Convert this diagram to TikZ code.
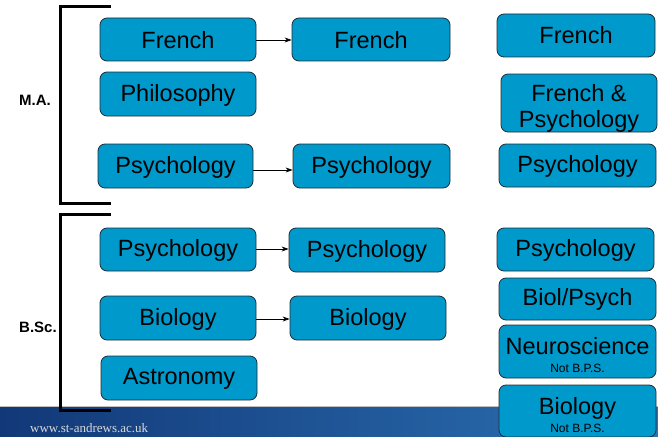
\documentclass[tikz,border=0pt]{standalone}
\usepackage{fontspec}
\setmainfont{Liberation Sans}
\newfontfamily\urlfont{Liberation Serif}
\usetikzlibrary{arrows.meta}
\definecolor{boxblue}{RGB}{0,153,204}
\definecolor{boxedge}{RGB}{30,45,55}
\definecolor{banddark}{RGB}{18,56,120}
\definecolor{bandlight}{RGB}{44,114,180}
\tikzset{
  cbox/.style={draw=boxedge, line width=0.8pt, fill=boxblue, rounded corners=7pt, inner sep=0pt},
  ctext/.style={inner sep=0pt, align=center, font=\fontsize{23.5}{26}\selectfont, text=black},
  bracket/.style={line width=3pt, line cap=rect},
  conn/.style={-{Stealth[length=7pt,width=5pt]}, line width=0.7pt},
  deg/.style={font=\bfseries\fontsize{15}{17}\selectfont}
}
% \bx{name}{x1}{y1}{x2}{y2}{text}{text y offset}
\newcommand{\bx}[7]{%
  \node[cbox, minimum width={(#4-#2)*1pt}, minimum height={(#5-#3)*1pt}] (#1) at ({(#2+#4)/2},{(#3+#5)/2}) {};
  \node[ctext] (#1t) at ({(#2+#4)/2},{(#3+#5)/2+#7}) {#6};}
\newcommand{\nbps}{{\fontsize{12}{13}\selectfont Not B.P.S.}}
\begin{document}
\begin{tikzpicture}[x=1pt,y=-1pt]
\useasboundingbox (0,0) rectangle (658,436);
% bottom band
\shade[left color=banddark, right color=bandlight] (0,407) rectangle (658,436);
\draw[color=black!25, line width=1pt] (0,406.5) -- (658,406.5);
\node[font=\urlfont\fontsize{13}{13}\selectfont, text=white!85!black, anchor=west, inner sep=0pt] (url) at (30,428) {www.st-andrews.ac.uk};
% brackets
\coordinate (ma1) at (109,7);
\coordinate (ma2) at (60,7);
\coordinate (ma3) at (60,203);
\coordinate (ma4) at (109,203);
\draw[bracket] (ma1) -- (ma2) -- (ma3) -- (ma4);
\coordinate (bs1) at (109,214);
\coordinate (bs2) at (60,214);
\coordinate (bs3) at (60,410);
\coordinate (bs4) at (109,410);
\draw[bracket] (bs1) -- (bs2) -- (bs3) -- (bs4);
\node[deg] (ma) at (35,100) {M.A.};
\node[deg] (bsc) at (38,327) {B.Sc.};
% column 1
\bx{fr1}{100}{18}{256}{61}{French}{1}
\bx{ph1}{100}{72}{256}{116}{Philosophy}{1}
\bx{ps1}{98}{144}{253}{188}{Psychology}{1}
\bx{ps2}{100}{228}{256}{271}{Psychology}{1}
\bx{bi1}{100}{296}{256}{340}{Biology}{1}
\bx{as1}{101}{356}{257}{400}{Astronomy}{1}
% column 2
\bx{fr2}{292}{18}{450}{61}{French}{1}
\bx{ps3}{293}{144}{450}{188}{Psychology}{1}
\bx{ps4}{289}{228}{445}{272}{Psychology}{1}
\bx{bi2}{290}{296}{446}{340}{Biology}{1}
% column 3
\bx{fr3}{497}{14}{655}{57}{French}{0}
\bx{fp3}{501}{74}{657}{132}{French \&\\[0pt]Psychology}{5}
\bx{ps5}{499}{144}{656}{187}{Psychology}{1}
\bx{ps6}{497}{228}{654}{271}{Psychology}{1}
\bx{bp3}{499}{278}{656}{320}{Biol/Psych}{0}
\bx{ne3}{499}{325}{656}{378}{Neuroscience\\[-8pt]\nbps}{4}
\bx{bi3}{499}{385}{656}{437}{Biology\\[-8pt]\nbps}{4}
% arrows
\draw[conn] (fr1.east |- 0,40) -- (fr2.west |- 0,40);
\draw[conn] (ps1.east |- 0,170) -- (ps3.west |- 0,170);
\draw[conn] (ps2.east |- 0,249) -- (ps4.west |- 0,249);
\draw[conn] (bi1.east |- 0,319) -- (bi2.west |- 0,319);
\end{tikzpicture}
\end{document}
